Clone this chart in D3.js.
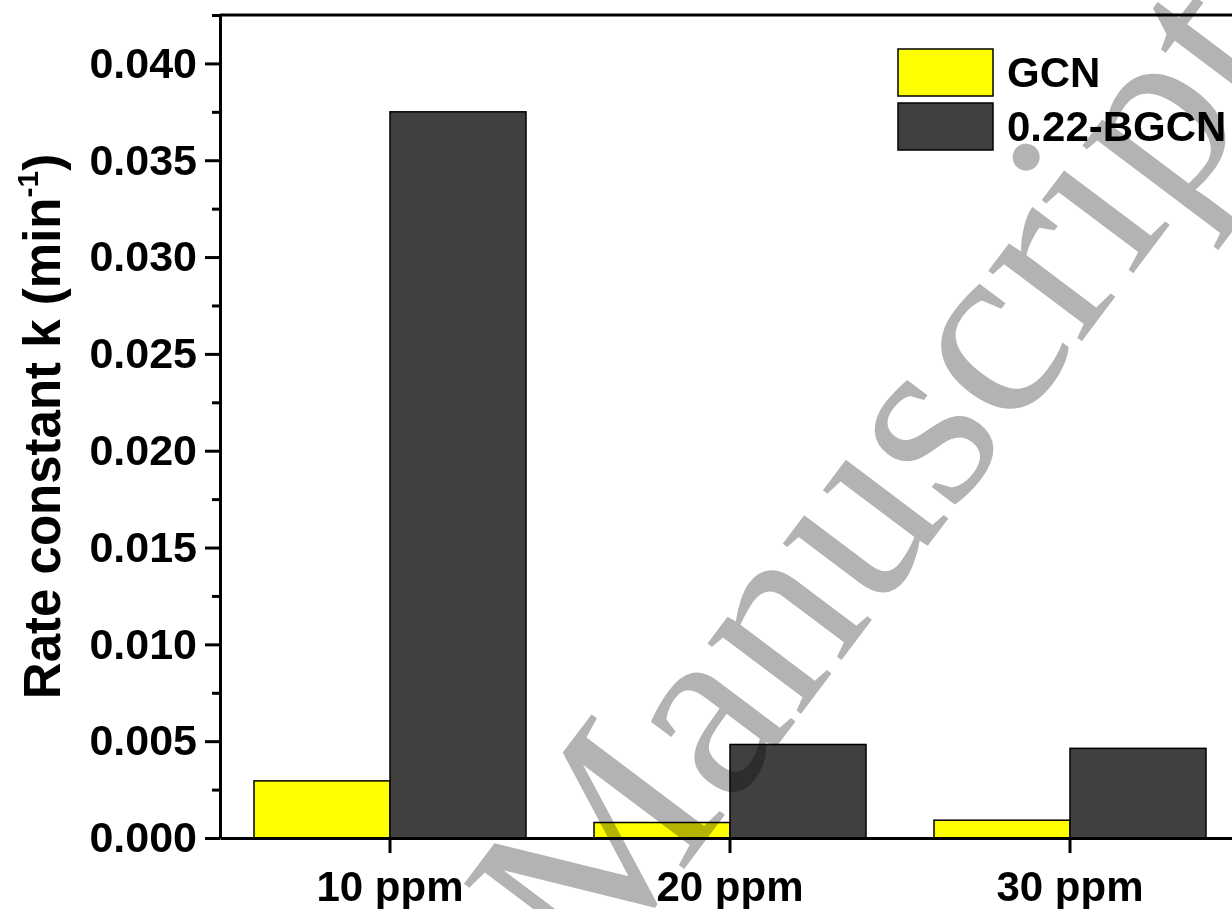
<!DOCTYPE html>
<html>
<head>
<meta charset="utf-8">
<script src="https://cdn.jsdelivr.net/npm/d3@7"></script>
<style>
  body { margin: 0; background: #fff; }
  svg { display: block; }
  .axis text { font-family: 'Liberation Sans', Arial, sans-serif; font-weight: bold; fill: #000; }
</style>
</head>
<body>
<div id="chart"></div>
<script>
// Chart data
const categories = ['10 ppm', '20 ppm', '30 ppm'];
const seriesNames = ['GCN', '0.22-BGCN'];
const gcnValues = [0.00295, 0.00080, 0.00092];
const bgcnValues = [0.0375, 0.00483, 0.00463];
const yMajorTicks = [0, 0.005, 0.010, 0.015, 0.020, 0.025, 0.030, 0.035, 0.040];
const yMinorTicks = [0.0025, 0.0075, 0.0125, 0.0175, 0.0225, 0.0275, 0.0325, 0.0375, 0.0425];
const watermarkText = 'Manuscript';

const colors = { GCN: '#ffff00', '0.22-BGCN': '#404040' };

const width = 1232, height = 909;
const margins = { top: 15, left: 220, right: -8, bottom: 71 };
const font = "'Liberation Sans', Arial, sans-serif";

const svg = d3.select('#chart').append('svg')
  .attr('width', width)
  .attr('height', height);

const x0 = d3.scaleBand()
  .domain(categories)
  .range([margins.left, width - margins.right])
  .paddingInner(0.2)
  .paddingOuter(0.1);

const x1 = d3.scaleBand()
  .domain(seriesNames)
  .range([0, x0.bandwidth()]);

const y = d3.scaleLinear()
  .domain([0, 0.0425])
  .range([height - margins.bottom, margins.top]);

const rows = categories.map((c, i) => ({
  category: c,
  values: [
    { key: 'GCN', value: gcnValues[i] },
    { key: '0.22-BGCN', value: bgcnValues[i] }
  ]
}));

// Bars
svg.append('g')
  .selectAll('g')
  .data(rows)
  .enter()
  .append('g')
  .attr('transform', d => `translate(${x0(d.category)},0)`)
  .selectAll('rect')
  .data(d => d.values)
  .enter()
  .append('rect')
  .attr('x', d => x1(d.key))
  .attr('y', d => y(d.value))
  .attr('width', x1.bandwidth())
  .attr('height', d => y(0) - y(d.value))
  .attr('fill', d => colors[d.key])
  .attr('stroke', '#000')
  .attr('stroke-width', 1.5);

// Top frame line
svg.append('line')
  .attr('x1', margins.left)
  .attr('x2', width)
  .attr('y1', y(0.0425))
  .attr('y2', y(0.0425))
  .attr('stroke', '#000')
  .attr('stroke-width', 3);

// Y axis (minor ticks)
svg.append('g')
  .attr('transform', `translate(${margins.left},0)`)
  .call(d3.axisLeft(y).tickValues(yMinorTicks).tickSize(8).tickFormat(''))
  .call(g => g.select('.domain').remove())
  .call(g => g.selectAll('line').attr('stroke-width', 3));

// Y axis (major)
const yAxis = svg.append('g')
  .attr('class', 'axis')
  .attr('transform', `translate(${margins.left},0)`)
  .call(d3.axisLeft(y).tickValues(yMajorTicks).tickSize(15).tickSizeOuter(0)
    .tickPadding(8).tickFormat(d3.format('.3f')));
yAxis.select('.domain').attr('stroke-width', 3);
yAxis.selectAll('line').attr('stroke-width', 3);
yAxis.selectAll('text').style('font-size', '43px').style('font-family', font);

// X axis
const xAxis = svg.append('g')
  .attr('class', 'axis')
  .attr('transform', `translate(0,${y(0)})`)
  .call(d3.axisBottom(x0).tickSize(15).tickSizeOuter(0).tickPadding(18));
xAxis.select('.domain').attr('stroke-width', 3);
xAxis.selectAll('line').attr('stroke-width', 3);
xAxis.selectAll('text').style('font-size', '42px').style('font-family', font);

// Y axis title
const title = svg.append('text')
  .attr('transform', `translate(60,${(y(0) + y(0.0425)) / 2}) rotate(-90)`)
  .attr('text-anchor', 'middle')
  .style('font-family', font)
  .style('font-weight', 'bold')
  .style('font-size', '51px');
title.append('tspan').text('Rate constant k (min');
title.append('tspan').attr('dy', -22).style('font-size', '30px').text('-1');
title.append('tspan').attr('dy', 22).text(')');

// Legend
const legend = svg.append('g')
  .selectAll('g')
  .data(seriesNames)
  .enter()
  .append('g')
  .attr('transform', (d, i) => `translate(898,${49 + i * 54})`);

legend.append('rect')
  .attr('width', 95)
  .attr('height', 47)
  .attr('fill', d => colors[d])
  .attr('stroke', '#000')
  .attr('stroke-width', 1.5);

legend.append('text')
  .attr('x', 109)
  .attr('y', 38)
  .style('font-family', font)
  .style('font-weight', 'bold')
  .style('font-size', '42px')
  .text(d => d);

// Watermark
svg.append('text')
  .attr('transform', 'translate(593,990) rotate(-53)')
  .style('font-family', "'Liberation Serif', 'Times New Roman', serif")
  .style('font-size', '255px')
  .style('mix-blend-mode', 'multiply')
  .attr('fill', '#b3b3b3')
  .text(watermarkText);
</script>
</body>
</html>
